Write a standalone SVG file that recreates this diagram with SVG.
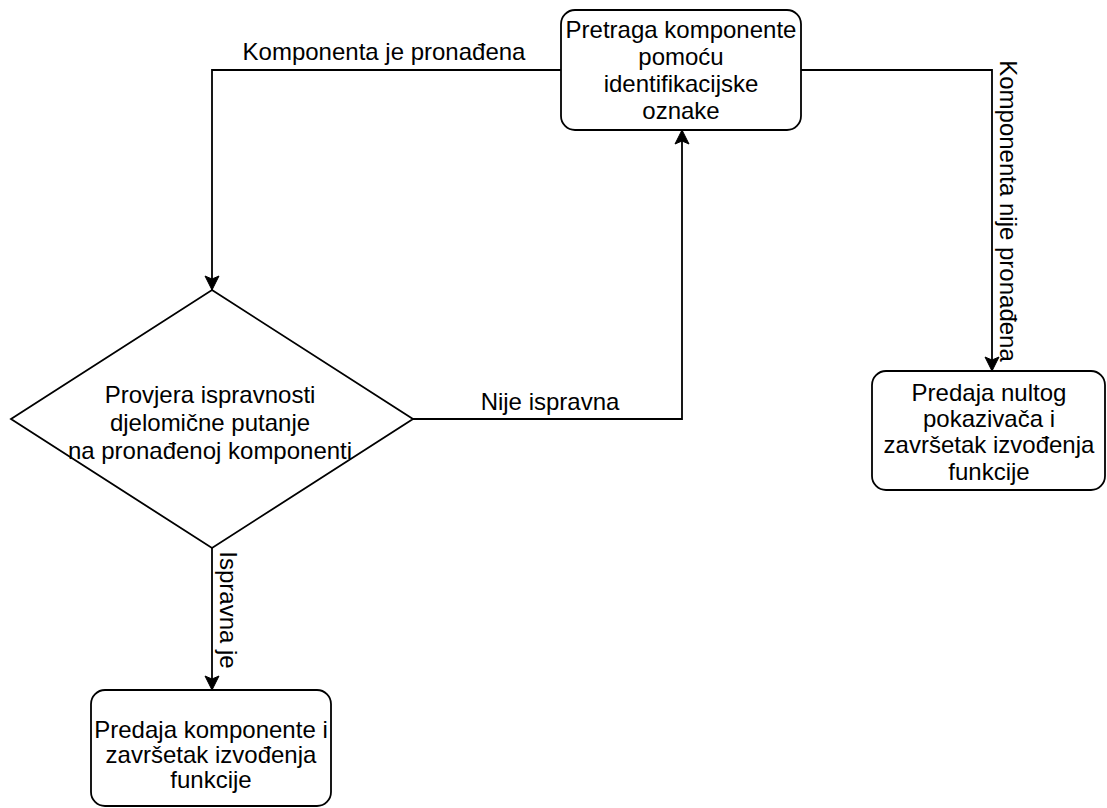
<svg xmlns="http://www.w3.org/2000/svg" width="1107" height="808" viewBox="0 0 1107 808">
<style>
.box{fill:#fff;stroke:#000;stroke-width:1.8}
.t{font-family:"Liberation Sans",Arial,sans-serif;font-size:24px;fill:#000;text-anchor:middle}
.edge{fill:none;stroke:#000;stroke-width:1.8}
</style>
<defs>
<marker id="arr" viewBox="0 0 16 16" refX="15" refY="8" markerWidth="16" markerHeight="16" markerUnits="userSpaceOnUse" orient="auto">
<path d="M15,8 L1,1 L4,8 L1,15 Z" fill="#000" stroke="#000" stroke-width="1"/>
</marker>
</defs>
<rect width="1107" height="808" fill="#fff"/>
<g id="connectors">
<path class="edge" d="M561,70 H212 V290" marker-end="url(#arr)"/>
<text class="t" x="384" y="60">Komponenta je pronađena</text>
<path class="edge" d="M801,70 H992 V371" marker-end="url(#arr)"/>
<text class="t" transform="translate(1008,211) rotate(90)" dy="8">Komponenta nije pronađena</text>
<path class="edge" d="M413,419 H682 V130" marker-end="url(#arr)"/>
<text class="t" x="550" y="410">Nije ispravna</text>
<path class="edge" d="M212,548 V690" marker-end="url(#arr)"/>
<text class="t" transform="translate(228,610) rotate(90)" dy="8">Ispravna je</text>
</g>
<g id="pretraga">
<rect class="box" x="561" y="10" width="240" height="120" rx="14"/>
<text class="t" x="681" y="38">Pretraga komponente</text>
<text class="t" x="681" y="65">pomoću</text>
<text class="t" x="681" y="92">identifikacijske</text>
<text class="t" x="681" y="119">oznake</text>
</g>
<g id="provjera">
<polygon class="box" points="212,290 413,419 212,548 11,419"/>
<text class="t" x="210" y="403">Provjera ispravnosti</text>
<text class="t" x="210" y="431">djelomične putanje </text>
<text class="t" x="210" y="459">na pronađenoj komponenti</text>
</g>
<g id="nulti">
<rect class="box" x="872" y="371" width="233" height="119" rx="14"/>
<text class="t" x="989" y="401">Predaja nultog</text>
<text class="t" x="989" y="427">pokazivača i</text>
<text class="t" x="989" y="453">završetak izvođenja</text>
<text class="t" x="989" y="480">funkcije</text>
</g>
<g id="predaja">
<rect class="box" x="91" y="690" width="240" height="116" rx="14"/>
<text class="t" x="211" y="738">Predaja komponente i</text>
<text class="t" x="211" y="763">završetak izvođenja</text>
<text class="t" x="211" y="788">funkcije</text>
</g>
</svg>
